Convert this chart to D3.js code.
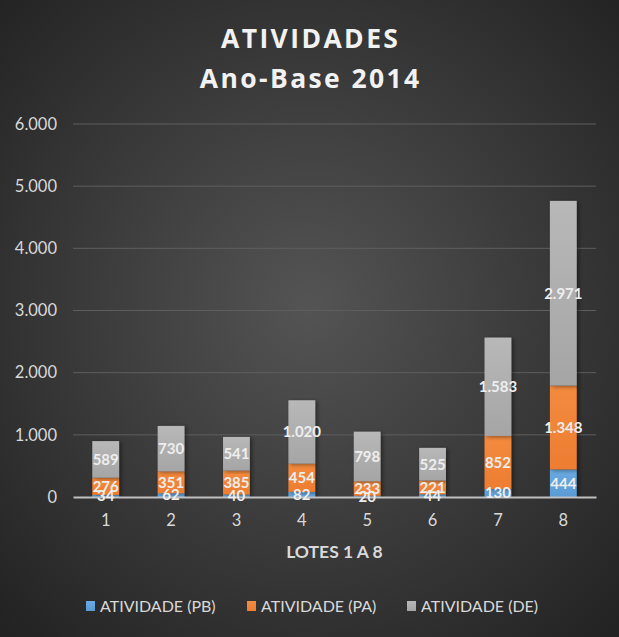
<!DOCTYPE html>
<meta charset="utf-8">
<script src="https://d3js.org/d3.v7.min.js"></script>
<style>
  body { margin: 0; background: #2b2b2b; }
  text { font-family: "Lato", "Open Sans", sans-serif; }
</style>
<div id="chart"></div>
<script>
// data
var lotes = ["1", "2", "3", "4", "5", "6", "7", "8"];
var series = ["ATIVIDADE (PB)", "ATIVIDADE (PA)", "ATIVIDADE (DE)"];
var pb = [34, 62, 40, 82, 20, 44, 130, 444];
var pa = [276, 351, 385, 454, 233, 221, 852, 1348];
var de = [589, 730, 541, 1020, 798, 525, 1583, 2971];
var yTicks = [0, 1000, 2000, 3000, 4000, 5000, 6000];

var colors = ["#5b9bd5", "#ed7d31", "#a5a5a5"];
var lightColors = ["#6aaae0", "#f38b3f", "#b8b8b8"];

var W = 619, H = 637;
var margin = {top: 124, right: 23, bottom: 140, left: 73};
var width = W - margin.left - margin.right,
    height = H - margin.top - margin.bottom;

var locale = d3.formatLocale({decimal: ",", thousands: ".", grouping: [3], currency: ["", ""]});
var fmt = locale.format(",d");

var table = lotes.map(function(l, i) {
  return {lote: l, "ATIVIDADE (PB)": pb[i], "ATIVIDADE (PA)": pa[i], "ATIVIDADE (DE)": de[i]};
});
var stacked = d3.stack().keys(series)(table);

var svg = d3.select("#chart").append("svg")
  .attr("width", W).attr("height", H);

var defs = svg.append("defs");
var bg = defs.append("radialGradient").attr("id", "bg")
  .attr("cx", "50%").attr("cy", "48%").attr("r", "70%");
bg.append("stop").attr("offset", "0%").attr("stop-color", "#545454");
bg.append("stop").attr("offset", "100%").attr("stop-color", "#232323");

series.forEach(function(s, i) {
  var g = defs.append("linearGradient").attr("id", "grad" + i)
    .attr("x1", 0).attr("y1", 0).attr("x2", 0).attr("y2", 1);
  g.append("stop").attr("offset", "0%").attr("stop-color", lightColors[i]);
  g.append("stop").attr("offset", "100%").attr("stop-color", colors[i]);
});

var sh = defs.append("filter").attr("id", "shadow")
  .attr("x", "-30%").attr("y", "-10%").attr("width", "160%").attr("height", "120%");
sh.append("feDropShadow").attr("dx", 2).attr("dy", 1).attr("stdDeviation", 2)
  .attr("flood-color", "#000").attr("flood-opacity", 0.45);

svg.append("rect").attr("width", W).attr("height", H).attr("fill", "url(#bg)");

// title (letter-spacing adds a trailing gap, so shift by half of it)
var title = svg.append("text")
  .attr("text-anchor", "middle")
  .attr("fill", "#f2f2f2")
  .style("font-family", "'Open Sans', sans-serif")
  .style("font-weight", "bold").style("font-size", "26.5px")
  .style("letter-spacing", "2.4px");
title.append("tspan").attr("x", W / 2 + 1.2).attr("y", 48).text("ATIVIDADES");
title.append("tspan").attr("x", W / 2 + 1.2).attr("y", 88).text("Ano-Base 2014");

var g = svg.append("g")
  .attr("transform", "translate(" + margin.left + "," + margin.top + ")");

var x = d3.scaleBand().domain(lotes).range([0, width]).paddingInner(0.59).paddingOuter(0.295);
var y = d3.scaleLinear().domain([0, 6000]).range([height, 0]);

// gridlines
g.append("g").selectAll("line")
  .data(yTicks.slice(1))
  .join("line")
    .attr("x1", 0).attr("x2", width)
    .attr("y1", function(d) { return y(d); })
    .attr("y2", function(d) { return y(d); })
    .attr("stroke", "#5e5e5e").attr("stroke-width", 1);

// y axis
var yAxis = g.append("g")
  .call(d3.axisLeft(y).tickValues(yTicks).tickFormat(fmt).tickSize(0).tickPadding(16));
yAxis.select(".domain").remove();
yAxis.selectAll("text").attr("fill", "#d9d9d9").style("font-size", "16.5px");

// bars
var layers = g.append("g").selectAll("g")
  .data(stacked)
  .join("g")
    .attr("fill", function(d, i) { return "url(#grad" + i + ")"; });

layers.selectAll("rect")
  .data(function(d) { return d; })
  .join("rect")
    .attr("x", function(d) { return x(d.data.lote); })
    .attr("y", function(d) { return y(d[1]); })
    .attr("height", function(d) { return y(d[0]) - y(d[1]); })
    .attr("width", x.bandwidth())
    .attr("filter", "url(#shadow)");

// x axis
var xAxis = g.append("g")
  .attr("transform", "translate(0," + height + ")")
  .call(d3.axisBottom(x).tickSize(0).tickPadding(17));
xAxis.select(".domain").attr("stroke", "#c0c0c0").attr("stroke-width", 2);
xAxis.selectAll("text").attr("fill", "#d9d9d9").style("font-size", "16.5px");

// data labels, drawn above the axis line
var labels = g.append("g").selectAll("g")
  .data(stacked)
  .join("g");
labels.selectAll("text")
  .data(function(d) { return d; })
  .join("text")
    .attr("x", function(d) { return x(d.data.lote) + x.bandwidth() / 2; })
    .attr("y", function(d) { return y((d[0] + d[1]) / 2); })
    .attr("dy", "0.36em")
    .attr("text-anchor", "middle")
    .attr("fill", "#eeeeee")
    .style("font-weight", "bold").style("font-size", "15px")
    .text(function(d) { return fmt(d[1] - d[0]); });

// axis title
svg.append("text")
  .attr("x", margin.left + width / 2).attr("y", 558)
  .attr("text-anchor", "middle").attr("fill", "#d9d9d9")
  .style("font-weight", "bold").style("font-size", "17.5px")
  .text("LOTES 1 A 8");

// legend
var legendX = [86, 247, 407];
var legend = svg.append("g").selectAll("g")
  .data(series)
  .join("g")
    .attr("transform", function(d, i) { return "translate(" + legendX[i] + ",601)"; });
legend.append("rect").attr("width", 9).attr("height", 10)
  .attr("fill", function(d, i) { return "url(#grad" + i + ")"; });
legend.append("text").attr("x", 14).attr("y", 11)
  .attr("fill", "#d9d9d9").style("font-size", "16px")
  .text(function(d) { return d; });
</script>
